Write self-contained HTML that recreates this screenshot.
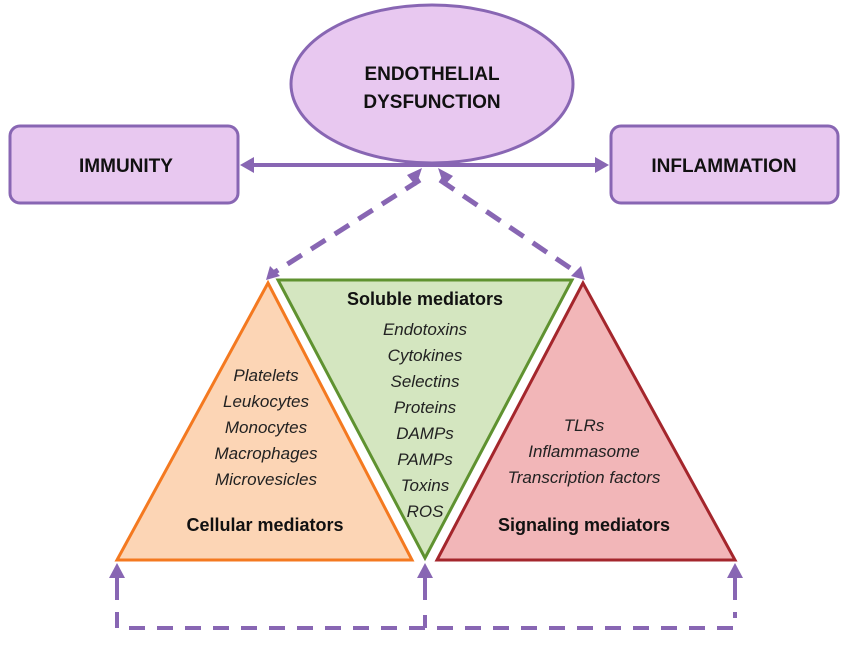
<!DOCTYPE html>
<html><head><style>
body{margin:0;background:#fff}
svg text{font-family:"Liberation Sans",sans-serif}
</style></head><body>
<svg width="849" height="641" viewBox="0 0 849 641" xmlns="http://www.w3.org/2000/svg">
<ellipse cx="432" cy="84" rx="141" ry="79" fill="#e8c8f0" stroke="#8866b3" stroke-width="3"/>
<text x="432" y="80" text-anchor="middle" font-size="19" font-weight="bold" fill="#111">ENDOTHELIAL</text>
<text x="432" y="108" text-anchor="middle" font-size="19" font-weight="bold" fill="#111">DYSFUNCTION</text>
<rect x="10" y="126" width="228" height="77" rx="10" fill="#e8c8f0" stroke="#8866b3" stroke-width="3"/>
<text x="126" y="172" text-anchor="middle" font-size="19" font-weight="bold" fill="#111">IMMUNITY</text>
<rect x="611" y="126" width="227" height="77" rx="10" fill="#e8c8f0" stroke="#8866b3" stroke-width="3"/>
<text x="724" y="172" text-anchor="middle" font-size="19" font-weight="bold" fill="#111">INFLAMMATION</text>
<line x1="250" y1="165" x2="598" y2="165" stroke="#8866b3" stroke-width="4"/>
<path d="M240,165 L254,157 L254,173 z" fill="#8866b3"/>
<path d="M609,165 L595,157 L595,173 z" fill="#8866b3"/>
<line x1="420" y1="180" x2="275" y2="272" stroke="#8866b3" stroke-width="5" stroke-dasharray="17,11"/>
<line x1="440" y1="180" x2="576" y2="272" stroke="#8866b3" stroke-width="5" stroke-dasharray="17,11"/>
<path d="M422,168 L416,186 L407,175 z" fill="#8866b3"/>
<path d="M438,168 L453,176 L444,186 z" fill="#8866b3"/>
<path d="M270,266 L266,280 L280,276 z" fill="#8866b3"/>
<path d="M581,266 L585,280 L571,276 z" fill="#8866b3"/>
<polygon points="268,283 117,560 412,560" fill="#fcd5b5" stroke="#f47920" stroke-width="3"/>
<polygon points="583,283 437,560 735,560" fill="#f2b6b8" stroke="#a4262c" stroke-width="3"/>
<polygon points="278,280 572,280 425,558" fill="#d4e6c0" stroke="#5f9230" stroke-width="3"/>
<text x="425" y="305" text-anchor="middle" font-size="18" font-weight="bold" fill="#111">Soluble mediators</text>
<g font-size="17" font-style="italic" fill="#222" text-anchor="middle">
<text x="425" y="335">Endotoxins</text>
<text x="425" y="361">Cytokines</text>
<text x="425" y="387">Selectins</text>
<text x="425" y="413">Proteins</text>
<text x="425" y="439">DAMPs</text>
<text x="425" y="465">PAMPs</text>
<text x="425" y="491">Toxins</text>
<text x="425" y="517">ROS</text>
<text x="266" y="381">Platelets</text>
<text x="266" y="407">Leukocytes</text>
<text x="266" y="433">Monocytes</text>
<text x="266" y="459">Macrophages</text>
<text x="266" y="485">Microvesicles</text>
<text x="584" y="431">TLRs</text>
<text x="584" y="457">Inflammasome</text>
<text x="584" y="483">Transcription factors</text>
</g>
<text x="265" y="531" text-anchor="middle" font-size="18" font-weight="bold" fill="#111">Cellular mediators</text>
<text x="584" y="531" text-anchor="middle" font-size="18" font-weight="bold" fill="#111">Signaling mediators</text>
<g stroke="#8866b3" stroke-width="4" fill="none">
<line x1="117" y1="577" x2="117" y2="600"/>
<line x1="425" y1="577" x2="425" y2="600"/>
<line x1="735" y1="577" x2="735" y2="600"/>
<path d="M117,612 L117,628 L735,628 L735,612" stroke-dasharray="16,12"/>
<line x1="425" y1="615" x2="425" y2="628"/>
</g>
<path d="M117,563 L109,578 L125,578 z" fill="#8866b3"/>
<path d="M425,563 L417,578 L433,578 z" fill="#8866b3"/>
<path d="M735,563 L727,578 L743,578 z" fill="#8866b3"/>
</svg>
</body></html>
